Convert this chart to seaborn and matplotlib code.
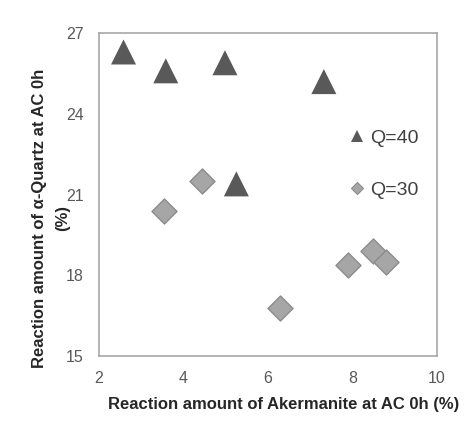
import matplotlib
matplotlib.use("Agg")
import matplotlib.pyplot as plt
from matplotlib.lines import Line2D
import seaborn as sns
import pandas as pd

# Data
x_q40 = [2.58, 3.58, 4.98, 7.32, 5.25]
y_q40 = [26.3, 25.6, 25.9, 25.2, 21.4]
x_q30 = [3.54, 4.43, 6.29, 7.88, 8.49, 8.79]
y_q30 = [20.4, 21.5, 16.8, 18.4, 18.9, 18.5]
series_labels = ["Q=40", "Q=30"]
x_ticks = [2, 4, 6, 8, 10]
y_ticks = [15, 18, 21, 24, 27]
x_label = "Reaction amount of Akermanite at AC 0h (%)"
y_label = "Reaction amount of α-Quartz at AC 0h"
y_label_unit = "(%)"

sns.set_theme(style="white")
plt.rcParams["font.family"] = ["Liberation Sans", "DejaVu Sans"]

df40 = pd.DataFrame({"x": x_q40, "y": y_q40})
df30 = pd.DataFrame({"x": x_q30, "y": y_q30})

fig = plt.figure(figsize=(4.67, 4.25), dpi=100)
ax = fig.add_axes([0.212, 0.162, 0.724, 0.760])

sns.scatterplot(data=df40, x="x", y="y", ax=ax, marker="^", s=324,
                color="#595959", edgecolor="none", linewidth=0, legend=False)
sns.scatterplot(data=df30, x="x", y="y", ax=ax, marker="D", s=162,
                color="#a6a6a6", edgecolor="#8c8c8c", linewidth=1.0, legend=False)

ax.set_xlim(2, 10)
ax.set_ylim(15, 27)
ax.set_xticks(x_ticks)
ax.set_yticks(y_ticks)
ax.tick_params(direction="in", length=4, width=0.8, color="#8c8c8c",
               labelsize=11.5, labelcolor="#595959", pad=11)
for sp in ax.spines.values():
    sp.set_color("#a0a0a0")
    sp.set_linewidth(1.1)

ax.set_xlabel(x_label, fontsize=12, fontweight="bold", color="#262626")
ax.xaxis.set_label_coords(0.547, -0.125)
ax.set_ylabel(y_label, fontsize=12, fontweight="bold", color="#262626")
ax.yaxis.set_label_coords(-0.155, 0.427)
ax.text(-0.108, 0.427, y_label_unit, transform=ax.transAxes, rotation=90,
        ha="center", va="center", fontsize=12, fontweight="bold", color="#262626")

handles = [
    Line2D([], [], marker="^", ls="", color="#595959", markersize=9, markeredgewidth=0),
    Line2D([], [], marker="D", ls="", color="#a6a6a6", markeredgecolor="#8c8c8c",
           markersize=6, markeredgewidth=0.8),
]
ax.legend(handles, series_labels, loc="center left", bbox_to_anchor=(0.74, 0.595),
          frameon=False, fontsize=14, labelcolor="#404040", handlelength=0.8,
          handletextpad=0.3, labelspacing=1.75, borderpad=0, borderaxespad=0)

fig.savefig("out.png", dpi=100)
